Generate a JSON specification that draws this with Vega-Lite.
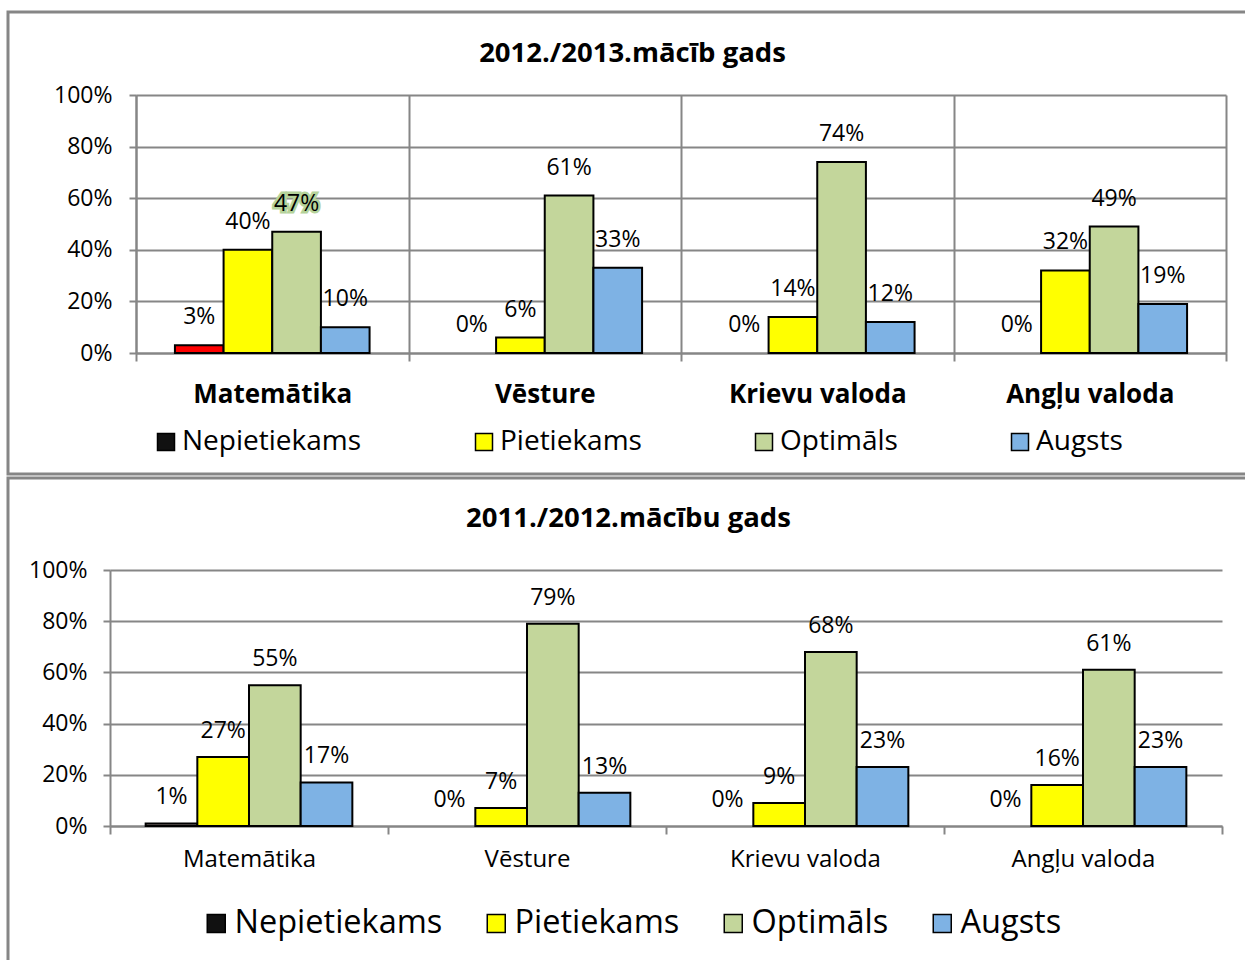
{
  "$schema": "https://vega.github.io/schema/vega-lite/v6.json",
  "background": "white",
  "padding": {"left": 6, "top": 10, "right": 0, "bottom": 0},
  "spacing": 0,
  "config": {
    "font": "Open Sans",
    "view": {"stroke": "#868686", "strokeWidth": 3}
  },
  "datasets": {
    "y2013": [
      {"subject": "Matemātika", "level": "Nepietiekams", "value": 0.03},
      {"subject": "Matemātika", "level": "Pietiekams", "value": 0.40},
      {"subject": "Matemātika", "level": "Optimāls", "value": 0.47},
      {"subject": "Matemātika", "level": "Augsts", "value": 0.10},
      {"subject": "Vēsture", "level": "Nepietiekams", "value": 0.0},
      {"subject": "Vēsture", "level": "Pietiekams", "value": 0.06},
      {"subject": "Vēsture", "level": "Optimāls", "value": 0.61},
      {"subject": "Vēsture", "level": "Augsts", "value": 0.33},
      {"subject": "Krievu valoda", "level": "Nepietiekams", "value": 0.0},
      {"subject": "Krievu valoda", "level": "Pietiekams", "value": 0.14},
      {"subject": "Krievu valoda", "level": "Optimāls", "value": 0.74},
      {"subject": "Krievu valoda", "level": "Augsts", "value": 0.12},
      {"subject": "Angļu valoda", "level": "Nepietiekams", "value": 0.0},
      {"subject": "Angļu valoda", "level": "Pietiekams", "value": 0.32},
      {"subject": "Angļu valoda", "level": "Optimāls", "value": 0.49},
      {"subject": "Angļu valoda", "level": "Augsts", "value": 0.19}
    ],
    "y2012": [
      {"subject": "Matemātika", "level": "Nepietiekams", "value": 0.01},
      {"subject": "Matemātika", "level": "Pietiekams", "value": 0.27},
      {"subject": "Matemātika", "level": "Optimāls", "value": 0.55},
      {"subject": "Matemātika", "level": "Augsts", "value": 0.17},
      {"subject": "Vēsture", "level": "Nepietiekams", "value": 0.0},
      {"subject": "Vēsture", "level": "Pietiekams", "value": 0.07},
      {"subject": "Vēsture", "level": "Optimāls", "value": 0.79},
      {"subject": "Vēsture", "level": "Augsts", "value": 0.13},
      {"subject": "Krievu valoda", "level": "Nepietiekams", "value": 0.0},
      {"subject": "Krievu valoda", "level": "Pietiekams", "value": 0.09},
      {"subject": "Krievu valoda", "level": "Optimāls", "value": 0.68},
      {"subject": "Krievu valoda", "level": "Augsts", "value": 0.23},
      {"subject": "Angļu valoda", "level": "Nepietiekams", "value": 0.0},
      {"subject": "Angļu valoda", "level": "Pietiekams", "value": 0.16},
      {"subject": "Angļu valoda", "level": "Optimāls", "value": 0.61},
      {"subject": "Angļu valoda", "level": "Augsts", "value": 0.23}
    ]
  },
  "resolve": {
    "scale": {"x": "independent", "y": "independent", "xOffset": "independent", "color": "independent"},
    "axis": {"x": "independent", "y": "independent"},
    "legend": {"color": "independent"}
  },
  "vconcat": [
    {
      "width": 1237,
      "height": 462,
      "view": {"stroke": "#868686", "strokeWidth": 3, "strokeDash": [1237, 462, 1699, 1]},
      "data": {"name": "y2013"},
      "title": {"text": "2012./2013.mācīb gads", "fontSize": 27.5, "fontWeight": "bold", "font": "Open Sans", "color": "black", "anchor": "middle", "offset": -55, "dx": 6},
      "resolve": {"axis": {"x": "independent"}},
      "encoding": {
        "xOffset": {
          "field": "level", "type": "nominal",
          "sort": ["Nepietiekams", "Pietiekams", "Optimāls", "Augsts"],
          "scale": {"domain": ["Nepietiekams", "Pietiekams", "Optimāls", "Augsts"], "paddingInner": 0, "paddingOuter": 0.8}
        },
        "y": {
          "field": "value", "type": "quantitative",
          "scale": {"domain": [0, 1], "range": [341, 83], "nice": false, "zero": true},
          "axis": {
            "title": null, "values": [0, 0.2, 0.4, 0.6, 0.8, 1], "format": ".0%", "offset": -128,
            "grid": true, "gridColor": "#868686", "gridWidth": 2,
            "domainColor": "#868686", "domainWidth": 2,
            "tickColor": "#868686", "tickWidth": 2, "tickSize": 7,
            "labelFont": "Open Sans", "labelFontSize": 23, "labelColor": "black", "labelPadding": 17
          }
        }
      },
      "layer": [
        {
          "mark": {"type": "bar", "stroke": "black", "strokeWidth": 2},
          "encoding": {
            "x": {
              "field": "subject", "type": "nominal",
              "sort": ["Matemātika", "Vēsture", "Krievu valoda", "Angļu valoda"],
              "scale": {"domain": ["Matemātika", "Vēsture", "Krievu valoda", "Angļu valoda"], "range": [128, 1218], "paddingInner": 0, "paddingOuter": 0},
              "axis": {
                "title": null, "orient": "bottom", "offset": -121, "tickBand": "extent",
                "grid": false,
                "domainColor": "#868686", "domainWidth": 2,
                "tickColor": "#868686", "tickWidth": 2, "tickSize": 8,
                "labelAngle": 0, "labelFont": "Open Sans", "labelFontSize": 26, "labelFontWeight": "bold",
                "labelColor": "black", "labelPadding": 20
              }
            },
            "strokeOpacity": {"condition": {"test": "datum.value === 0", "value": 0}, "value": 1},
            "color": {
              "condition": {"test": "datum.level === 'Nepietiekams'", "value": "#ff0000"},
              "field": "level", "type": "nominal",
              "scale": {"domain": ["Nepietiekams", "Pietiekams", "Optimāls", "Augsts"], "range": ["#111111", "#ffff00", "#c3d69b", "#7eb2e4"]},
              "legend": {
                "title": null, "orient": "none", "legendX": 144, "legendY": 416, "direction": "horizontal",
                "symbolType": "square", "symbolSize": 289, "symbolStrokeColor": "black", "symbolStrokeWidth": 1.5,
                "labelFont": "Open Sans", "labelFontSize": 28, "labelColor": "black", "labelOffset": 2,
                "columnPadding": 108, "labelLimit": 400
              }
            }
          }
        },
        {
          "transform": [{"filter": "datum.subject === 'Matemātika' && datum.level === 'Optimāls'"}],
          "mark": {"type": "text", "dy": -28, "baseline": "middle", "fontSize": 23, "font": "Open Sans", "stroke": "#b5d39a", "strokeWidth": 5, "fill": "#b5d39a"},
          "encoding": {
            "x": {"field": "subject", "type": "nominal", "sort": ["Matemātika", "Vēsture", "Krievu valoda", "Angļu valoda"], "axis": null},
            "text": {"field": "value", "type": "quantitative", "format": ".0%"}
          }
        },
        {
          "mark": {"type": "text", "dy": -28, "baseline": "middle", "fontSize": 23, "font": "Open Sans", "color": "black"},
          "encoding": {
            "x": {
              "field": "subject", "type": "nominal",
              "sort": ["Matemātika", "Vēsture", "Krievu valoda", "Angļu valoda"],
              "axis": {
                "title": null, "orient": "top", "tickBand": "extent",
                "grid": true, "gridColor": "#868686", "gridWidth": 2,
                "domain": false, "ticks": false, "labels": false
              }
            },
            "text": {"field": "value", "type": "quantitative", "format": ".0%"}
          }
        }
      ]
    },
    {
      "width": 1237,
      "height": 482,
      "view": {"stroke": "#868686", "strokeWidth": 3, "strokeDash": [1237, 1719, 482, 1]},
      "data": {"name": "y2012"},
      "title": {"text": "2011./2012.mācību gads", "fontSize": 27.5, "fontWeight": "bold", "font": "Open Sans", "color": "black", "anchor": "middle", "offset": -54, "dx": 2},
      "encoding": {
        "x": {
          "field": "subject", "type": "nominal",
          "sort": ["Matemātika", "Vēsture", "Krievu valoda", "Angļu valoda"],
          "scale": {"domain": ["Matemātika", "Vēsture", "Krievu valoda", "Angļu valoda"], "range": [102, 1214], "paddingInner": 0, "paddingOuter": 0},
          "axis": {
            "title": null, "orient": "bottom", "offset": -134, "tickBand": "extent",
            "grid": false,
            "domainColor": "#868686", "domainWidth": 2,
            "tickColor": "#868686", "tickWidth": 2, "tickSize": 8,
            "labelAngle": 0, "labelFont": "Open Sans", "labelFontSize": 24,
            "labelColor": "black", "labelPadding": 13
          }
        },
        "xOffset": {
          "field": "level", "type": "nominal",
          "sort": ["Nepietiekams", "Pietiekams", "Optimāls", "Augsts"],
          "scale": {"domain": ["Nepietiekams", "Pietiekams", "Optimāls", "Augsts"], "paddingInner": 0, "paddingOuter": 0.69}
        },
        "y": {
          "field": "value", "type": "quantitative",
          "scale": {"domain": [0, 1], "range": [348, 92], "nice": false, "zero": true},
          "axis": {
            "title": null, "values": [0, 0.2, 0.4, 0.6, 0.8, 1], "format": ".0%", "offset": -102,
            "grid": true, "gridColor": "#868686", "gridWidth": 2,
            "domainColor": "#868686", "domainWidth": 2,
            "tickColor": "#868686", "tickWidth": 2, "tickSize": 7,
            "labelFont": "Open Sans", "labelFontSize": 23, "labelColor": "black", "labelPadding": 16
          }
        }
      },
      "layer": [
        {
          "mark": {"type": "bar", "stroke": "black", "strokeWidth": 2},
          "encoding": {
            "strokeOpacity": {"condition": {"test": "datum.value === 0", "value": 0}, "value": 1},
            "color": {
              "condition": {"test": "datum.level === 'Nepietiekams'", "value": "#8a7c7a"},
              "field": "level", "type": "nominal",
              "scale": {"domain": ["Nepietiekams", "Pietiekams", "Optimāls", "Augsts"], "range": ["#111111", "#ffff00", "#c3d69b", "#7eb2e4"]},
              "legend": {
                "title": null, "orient": "none", "legendX": 192, "legendY": 429, "direction": "horizontal",
                "symbolType": "square", "symbolSize": 324, "symbolStrokeColor": "black", "symbolStrokeWidth": 1.5,
                "labelFont": "Open Sans", "labelFontSize": 32.5, "labelColor": "black", "labelOffset": 2,
                "columnPadding": 37, "labelLimit": 400
              }
            }
          }
        },
        {
          "mark": {"type": "text", "dy": -26, "baseline": "middle", "fontSize": 23, "font": "Open Sans", "color": "black"},
          "encoding": {"text": {"field": "value", "type": "quantitative", "format": ".0%"}}
        }
      ]
    }
  ]
}
